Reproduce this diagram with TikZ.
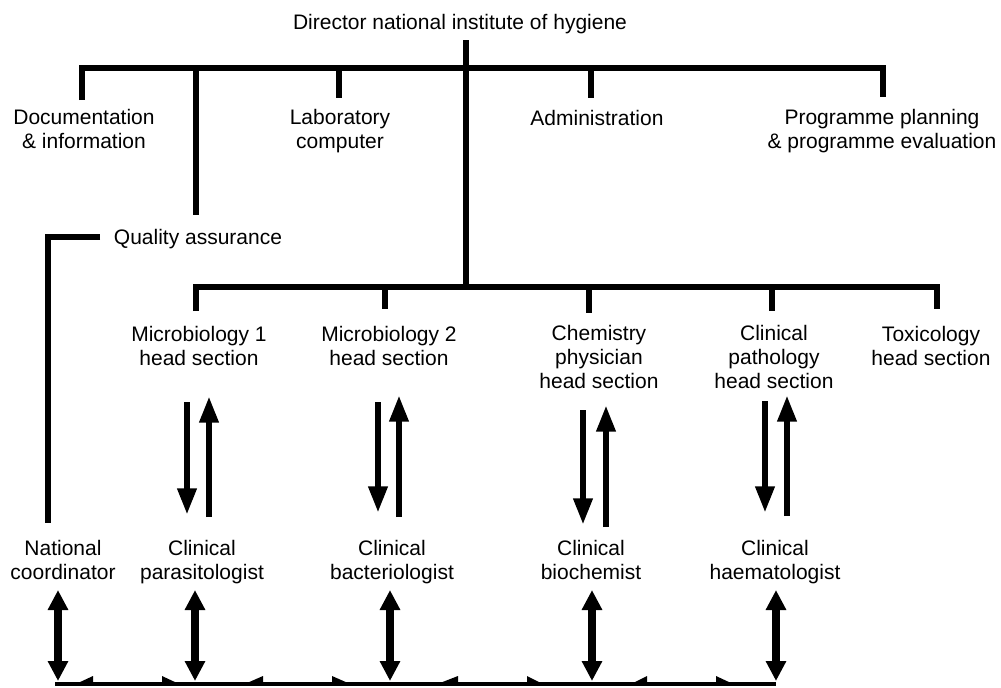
\documentclass[tikz,border=0pt]{standalone}
\usepackage{fontspec}
\setmainfont{Liberation Sans}
\usetikzlibrary{arrows.meta}
\begin{document}
\begin{tikzpicture}[x=0.75pt,y=-0.75pt,
  lbl/.style={font=\fontsize{15.75pt}{18pt}\selectfont, align=center, inner sep=0pt, anchor=base},
  bar/.style={line width=4.1pt, line join=miter},
  flow/.style={line width=4.9pt, -{Triangle[width=13.5pt,length=20pt]}},
  link/.style={line width=5.4pt, {Triangle[width=14.5pt,length=15pt]}-{Triangle[width=14.5pt,length=15pt]}},
  wedge/.style={fill=black}]
\useasboundingbox[fill=white] (0,0) rectangle (1001,687);

% ---- labels (anchor = baseline of last line) ----
\node[lbl] (dir) at (460,29) {Director national institute of hygiene};
\node[lbl] (doc) at (84,148) {Documentation\\\& information};
\node[lbl] (lab) at (340,148) {Laboratory\\computer};
\node[lbl] (adm) at (597,125) {Administration};
\node[lbl] (prog) at (882,148) {Programme planning\\\& programme evaluation};
\node[lbl] (qa) at (198,244) {Quality assurance};

\node[lbl] (mic1) at (199,365) {Microbiology 1\\head section};
\node[lbl] (mic2) at (389,365) {Microbiology 2\\head section};
\node[lbl] (chem) at (599,388) {Chemistry\\physician\\head section};
\node[lbl] (cpat) at (774,388) {Clinical\\pathology\\head section};
\node[lbl] (tox) at (931,365) {Toxicology\\head section};

\node[lbl] (nat) at (63,579) {National\\coordinator};
\node[lbl] (para) at (202,579) {Clinical\\parasitologist};
\node[lbl] (bact) at (392,579) {Clinical\\bacteriologist};
\node[lbl] (bioc) at (591,579) {Clinical\\biochemist};
\node[lbl] (haem) at (775,579) {Clinical\\haematologist};

% ---- coordinates ----
\coordinate (dirfoot) at (466,40);
\coordinate (tj) at (466,68);
\coordinate (sj) at (466,287);
\coordinate (docend) at (82,100);
\coordinate (qaend) at (196,215);
\coordinate (labend) at (339,98);
\coordinate (admend) at (591,98);
\coordinate (progend) at (883,97);
\coordinate (qaleft) at (100,237);
\coordinate (natend) at (48,523);
\coordinate (m1end) at (196,311);
\coordinate (m2end) at (385,309);
\coordinate (chend) at (589,313);
\coordinate (cpend) at (772,311);
\coordinate (toxend) at (937,309);

% ---- top tree ----
\draw[bar] (docend) -- (docend |- tj) -- (progend |- tj) -- (progend);
\draw[bar] (qaend |- tj) -- (qaend);
\draw[bar] (labend |- tj) -- (labend);
\draw[bar] (admend |- tj) -- (admend);
\draw[bar] (dirfoot) -- (sj);
\draw[bar] (qaleft) -- (natend |- qaleft) -- (natend);

% ---- section tree ----
\draw[bar] (m1end) -- (m1end |- sj) -- (toxend |- sj) -- (toxend);
\draw[bar] (m2end |- sj) -- (m2end);
\draw[bar] (chend |- sj) -- (chend);
\draw[bar] (cpend |- sj) -- (cpend);

% ---- vertical flows ----
\coordinate (m1d1) at (187,402); \coordinate (m1d2) at (187,515);
\coordinate (m1u1) at (209,517); \coordinate (m1u2) at (209,396);
\coordinate (m2d1) at (378,402); \coordinate (m2d2) at (378,513);
\coordinate (m2u1) at (399,517); \coordinate (m2u2) at (399,395);
\coordinate (chd1) at (583,410); \coordinate (chd2) at (583,525);
\coordinate (chu1) at (606,527); \coordinate (chu2) at (606,405);
\coordinate (cpd1) at (765,401); \coordinate (cpd2) at (765,513);
\coordinate (cpu1) at (787,516); \coordinate (cpu2) at (787,395);
\draw[flow] (m1d1) -- (m1d2);
\draw[flow] (m1u1) -- (m1u2);
\draw[flow] (m2d1) -- (m2d2);
\draw[flow] (m2u1) -- (m2u2);
\draw[flow] (chd1) -- (chd2);
\draw[flow] (chu1) -- (chu2);
\draw[flow] (cpd1) -- (cpd2);
\draw[flow] (cpu1) -- (cpu2);

% ---- bottom links ----
\coordinate (bl) at (55,684);
\coordinate (br) at (776,684);
\draw[line width=3.6pt] (bl) -- (br);
\coordinate (n1) at (58,590); \coordinate (n2) at (58,681);
\coordinate (p1) at (195,590); \coordinate (p2) at (195,681);
\coordinate (b1) at (390,590); \coordinate (b2) at (390,681);
\coordinate (c1) at (592,590); \coordinate (c2) at (592,681);
\coordinate (h1) at (776,590); \coordinate (h2) at (776,681);
\draw[link] (n1) -- (n2);
\draw[link] (p1) -- (p2);
\draw[link] (b1) -- (b2);
\draw[link] (c1) -- (c2);
\draw[link] (h1) -- (h2);

% ---- small wedges on the bottom line ----
\fill[wedge] (78,683) -- (93,676) -- (93,683) -- cycle;
\fill[wedge] (162,683) -- (162,676) -- (177,683) -- cycle;
\fill[wedge] (247,683) -- (263,676) -- (263,683) -- cycle;
\fill[wedge] (332,683) -- (332,676) -- (348,683) -- cycle;
\fill[wedge] (440,683) -- (458,676) -- (458,683) -- cycle;
\fill[wedge] (527,683) -- (527,676) -- (541,683) -- cycle;
\fill[wedge] (633,683) -- (647,676) -- (647,683) -- cycle;
\fill[wedge] (716,683) -- (716,676) -- (731,683) -- cycle;
\end{tikzpicture}
\end{document}
